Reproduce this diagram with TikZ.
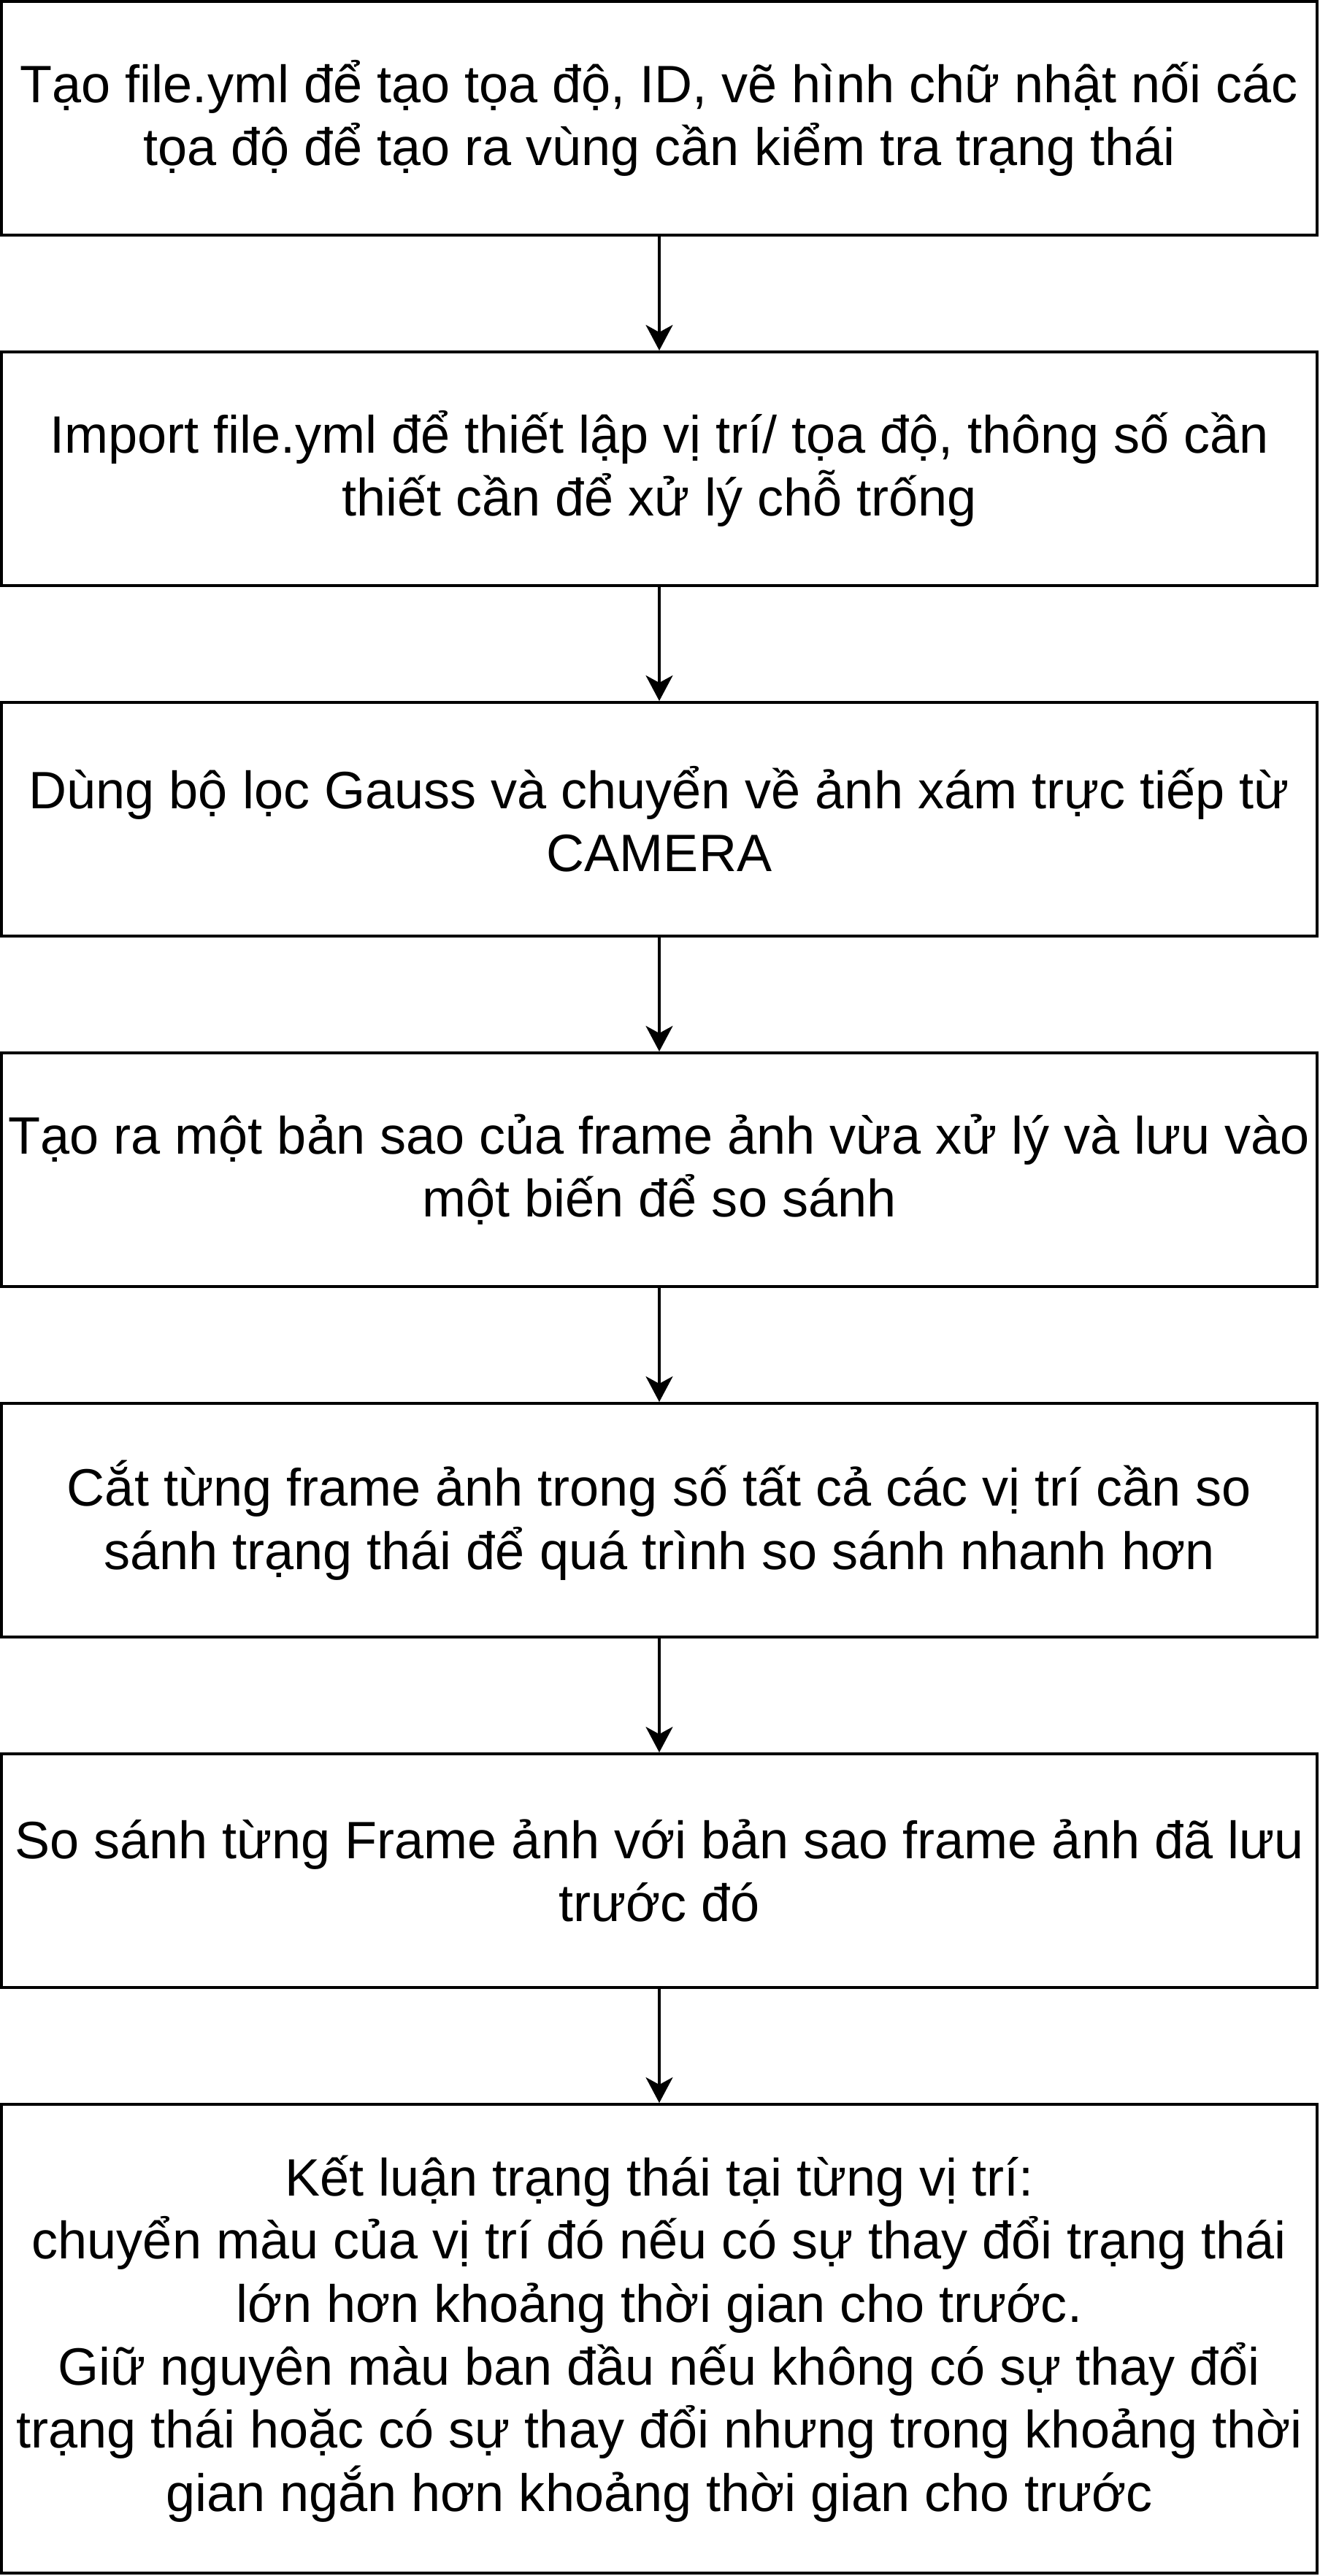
\documentclass[tikz,border=0pt]{standalone}
\usepackage{fontspec}
\setmainfont{Liberation Sans}
\usetikzlibrary{arrows.meta}
\tikzset{procbox/.style={draw,line width=0.04cm,minimum width=18.02cm,minimum height=3.2cm,
inner sep=0pt,align=center,font=\fontsize{20.5pt}{24.6pt}\selectfont},
flowarrow/.style={line width=0.035cm,-{Stealth[length=0.35cm,width=0.37cm,inset=0.1cm]}}}

\begin{document}
\begin{tikzpicture}
\useasboundingbox (0,0) rectangle (18.08,-35.28);

\node[procbox] (yml) at (9.03,-1.62) {Tạo file.yml để tạo tọa độ, ID, vẽ hình chữ nhật nối các\\tọa độ để tạo ra vùng cần kiểm tra trạng thái};
\node[procbox] (imp) at (9.03,-6.42) {Import file.yml để thiết lập vị trí/ tọa độ, thông số cần\\thiết cần để xử lý chỗ trống};
\node[procbox] (gauss) at (9.03,-11.22) {Dùng bộ lọc Gauss và chuyển về ảnh xám trực tiếp từ\\CAMERA};
\node[procbox] (copyf) at (9.03,-16.02) {Tạo ra một bản sao của frame ảnh vừa xử lý và lưu vào\\một biến để so sánh};
\node[procbox] (crop) at (9.03,-20.82) {Cắt từng frame ảnh trong số tất cả các vị trí cần so\\sánh trạng thái để quá trình so sánh nhanh hơn};
\node[procbox] (cmp) at (9.03,-25.62) {So sánh từng Frame ảnh với bản sao frame ảnh đã lưu\\trước đó};
\node[procbox,minimum height=6.42cm] (result) at (9.03,-32.03) {Kết luận trạng thái tại từng vị trí:\\chuyển màu của vị trí đó nếu có sự thay đổi trạng thái\\lớn hơn khoảng thời gian cho trước.\\Giữ nguyên màu ban đầu nếu không có sự thay đổi\\trạng thái hoặc có sự thay đổi nhưng trong khoảng thời\\gian ngắn hơn khoảng thời gian cho trước};

\foreach \a/\b in {yml/imp,imp/gauss,gauss/copyf,copyf/crop,crop/cmp,cmp/result}
\draw[flowarrow] (\a) -- (\b);
\end{tikzpicture}
\end{document}
